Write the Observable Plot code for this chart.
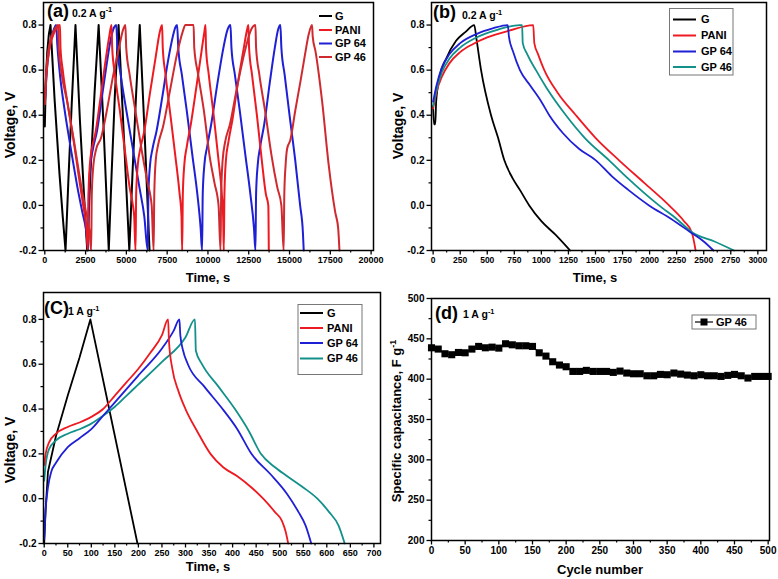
<!DOCTYPE html>
<html><head><meta charset="utf-8">
<script src="https://cdn.jsdelivr.net/npm/d3@7"></script>
<script src="https://cdn.jsdelivr.net/npm/@observablehq/plot@0.6"></script>
<style>
html,body{margin:0;padding:0;background:#fff;}
#fig{position:relative;width:778px;height:579px;overflow:hidden;background:#fff;}
#fig svg{position:absolute;overflow:visible;}
</style></head><body><div id="fig"></div>
<script>
// ---------- DATA ----------
const seriesNames = ["G", "PANI", "GP 64", "GP 46"];
// (a) 0.2 A/g, repeated cycles  [time s, voltage V]
const aG = [[0,0.35],[60,0.55],[150,0.68],[250,0.76],[350,0.8],[600,0.47],[900,0.14],[1100,-0.05],[1270,-0.2],[1450,0.12],[1650,0.45],[1880,0.8],[2150,0.38],[2400,0.05],[2600,-0.2],[2800,0.15],[3050,0.5],[3300,0.8],[3600,0.35],[3920,-0.2],[4100,0.15],[4300,0.5],[4520,0.8],[4850,0.3],[5180,-0.2],[5380,0.15],[5600,0.5],[5820,0.8],[6100,0.35],[6420,-0.2]];
const aGP64 = [[0,0.45],[150,0.62],[350,0.73],[550,0.78],[700,0.8],[760,0.72],[900,0.6],[1200,0.43],[1600,0.25],[2000,0.08],[2300,-0.03],[2550,-0.12],[2660,-0.2],
 [2700,0.05],[2800,0.18],[2950,0.25],[3200,0.33],[3500,0.48],[3800,0.63],[4050,0.74],[4250,0.79],[4380,0.8],
 [4450,0.7],[4650,0.58],[5000,0.42],[5400,0.25],[5800,0.08],[6100,-0.05],[6310,-0.2],
 [6350,0.05],[6450,0.18],[6600,0.25],[6850,0.33],[7200,0.48],[7550,0.64],[7850,0.75],[8000,0.79],[8110,0.8],
 [8180,0.7],[8400,0.58],[8700,0.42],[9050,0.22],[9350,0.05],[9550,-0.1],[9640,-0.2],
 [9680,0.05],[9780,0.18],[9950,0.26],[10200,0.36],[10600,0.55],[10950,0.7],[11200,0.78],[11380,0.8],
 [11440,0.7],[11650,0.58],[11950,0.42],[12300,0.22],[12600,0.05],[12820,-0.1],[12910,-0.2],
 [12950,0.05],[13050,0.18],[13200,0.26],[13450,0.36],[13800,0.55],[14100,0.7],[14300,0.78],[14440,0.8],
 [14500,0.7],[14700,0.58],[15000,0.4],[15350,0.2],[15650,0.0],[15820,-0.12],[15870,-0.2]];
const aPANI = [[0,0.45],[100,0.58],[300,0.7],[600,0.77],[930,0.8],[960,0.7],[1100,0.6],[1400,0.45],[1800,0.27],[2100,0.12],[2350,0.0],[2550,-0.1],[2640,-0.2],
 [2680,0.05],[2760,0.18],[2880,0.25],[3100,0.32],[3400,0.47],[3700,0.63],[3950,0.75],[4090,0.8],
 [4130,0.7],[4300,0.58],[4600,0.42],[4950,0.22],[5200,0.08],[5400,0.0],[5480,-0.05],[5560,-0.2],
 [5600,0.05],[5700,0.18],[5850,0.25],[6100,0.33],[6450,0.5],[6800,0.66],[7050,0.77],[7190,0.8],
 [7230,0.7],[7400,0.58],[7700,0.4],[8000,0.22],[8250,0.06],[8380,-0.05],[8420,-0.2],
 [8460,0.05],[8550,0.18],[8700,0.26],[8950,0.36],[9300,0.53],[9600,0.68],[9780,0.77],[9850,0.8],
 [9880,0.7],[10050,0.58],[10350,0.4],[10650,0.2],[10850,0.05],[10930,-0.05],[10970,-0.2],
 [11010,0.05],[11100,0.2],[11250,0.28],[11500,0.38],[11850,0.55],[12200,0.7],[12400,0.78],[12480,0.8],
 [12520,0.7],[12700,0.58],[13000,0.4],[13300,0.2],[13550,0.05],[13700,0.0],[13730,-0.2]];
const aGP46 = [[0,0.45],[100,0.6],[300,0.72],[600,0.78],[820,0.8],[850,0.7],[1000,0.6],[1400,0.45],[1800,0.28],[2200,0.1],[2500,-0.02],[2750,-0.12],[2840,-0.2],
 [2880,0.05],[2980,0.18],[3150,0.25],[3450,0.3],[3800,0.42],[4200,0.58],[4550,0.7],[4800,0.78],[4940,0.8],
 [4990,0.7],[5200,0.58],[5550,0.42],[5950,0.24],[6300,0.1],[6550,0.0],[6670,-0.2],
 [6710,0.05],[6800,0.2],[6950,0.27],[7250,0.35],[7650,0.5],[8100,0.67],[8450,0.77],[8620,0.8],[9120,0.8],
 [9160,0.7],[9400,0.58],[9750,0.42],[10100,0.22],[10400,0.1],[10650,0.0],[10770,-0.2],
 [10810,0.05],[10900,0.2],[11050,0.28],[11350,0.36],[11800,0.53],[12250,0.68],[12650,0.78],[12910,0.8],
 [12950,0.7],[13150,0.58],[13500,0.42],[13900,0.22],[14250,0.08],[14500,0.0],[14640,-0.2],
 [14680,0.05],[14760,0.18],[14850,0.25],[15050,0.29],[15350,0.42],[15670,0.55],[15950,0.67],[16180,0.76],[16380,0.8],
 [16420,0.75],[16600,0.68],[17000,0.46],[17400,0.18],[17800,-0.03],[17980,-0.1],[18060,-0.2]];
// (b) 0.2 A/g, single cycle
const bG = [[0,0.44],[8,0.36],[20,0.36],[28,0.46],[60,0.57],[120,0.65],[212,0.73],[300,0.77],[380,0.8],[400,0.74],[443,0.6],[535,0.4],[600,0.3],[658,0.2],[735,0.12],[800,0.07],[888,0.0],[1000,-0.07],[1130,-0.13],[1265,-0.2]];
const bPANI = [[0,0.43],[30,0.5],[80,0.57],[150,0.63],[250,0.68],[366,0.715],[500,0.745],[700,0.775],[925,0.8],[935,0.72],[970,0.67],[1027,0.6],[1150,0.5],[1319,0.4],[1500,0.3],[1718,0.2],[1950,0.1],[2180,0.0],[2318,-0.07],[2390,-0.12],[2410,-0.16],[2425,-0.2]];
const bGP64 = [[0,0.46],[30,0.53],[80,0.61],[150,0.67],[250,0.72],[400,0.76],[550,0.785],[690,0.8],[700,0.75],[740,0.68],[802,0.6],[900,0.53],[1000,0.46],[1073,0.4],[1200,0.32],[1350,0.25],[1503,0.2],[1650,0.13],[1800,0.07],[1995,0.0],[2200,-0.06],[2380,-0.12],[2500,-0.16],[2590,-0.2]];
const bGP46 = [[0,0.44],[30,0.51],[80,0.59],[150,0.65],[250,0.7],[400,0.745],[600,0.78],[800,0.8],[822,0.8],[828,0.72],[870,0.67],[950,0.6],[1050,0.52],[1227,0.4],[1400,0.3],[1626,0.2],[1800,0.12],[2087,0.0],[2250,-0.06],[2395,-0.12],[2600,-0.16],[2780,-0.2]];
// (c) 1 A/g
const cG = [[0,-0.2],[3,-0.05],[8,0.12],[25,0.28],[50,0.46],[75,0.63],[98,0.8],[148,0.3],[198,-0.2]];
const cPANI = [[0,0.15],[3,0.2],[10,0.25],[25,0.29],[50,0.32],[75,0.34],[100,0.365],[125,0.4],[150,0.46],[175,0.52],[200,0.58],[225,0.65],[250,0.73],[263,0.8],[265,0.7],[272,0.58],[285,0.48],[300,0.4],[325,0.3],[353,0.2],[380,0.14],[410,0.1],[440,0.05],[465,0.0],[490,-0.06],[505,-0.1],[513,-0.15],[518,-0.2]];
const cGP64 = [[0,-0.18],[3,-0.05],[8,0.05],[15,0.12],[25,0.16],[50,0.23],[75,0.27],[100,0.31],[125,0.37],[150,0.43],[200,0.55],[250,0.67],[275,0.75],[287,0.8],[289,0.73],[295,0.66],[305,0.6],[340,0.5],[375,0.41],[410,0.31],[440,0.2],[480,0.11],[516,0.02],[540,-0.06],[555,-0.12],[567,-0.2]];
const cGP46 = [[0,0.08],[3,0.15],[10,0.22],[25,0.26],[50,0.29],[75,0.31],[100,0.335],[125,0.37],[150,0.41],[175,0.46],[200,0.51],[250,0.61],[300,0.72],[320,0.8],[322,0.66],[335,0.6],[370,0.5],[405,0.4],[435,0.3],[460,0.2],[490,0.14],[516,0.1],[550,0.05],[580,0.0],[605,-0.06],[625,-0.12],[638,-0.2]];
// (d) cycling, GP 46
const dCycle = [0,10,20,30,40,50,60,70,80,90,100,110,120,130,140,150,160,170,180,190,200,210,220,230,240,250,260,270,280,290,300,310,320,330,340,350,360,370,380,390,400,410,420,430,440,450,460,470,480,490,500];
const dCap = [438.9,437.3,431.5,430.3,433.1,432.7,437.3,440.6,438.9,439.7,438.5,443.9,442.6,441.4,441.4,440.6,432.7,428.6,421.6,417.5,415.4,409.6,409.6,410.9,409.6,409.6,409.6,408.4,410.0,407.6,406.7,406.7,404.2,404.2,405.9,405.5,407.6,406.3,405.1,404.2,405.5,404.2,404.2,403.4,404.7,405.9,404.2,401.4,403.4,403.4,403.4];
// ticks
const voltTicks = [-0.2,0,0.2,0.4,0.6,0.8];
const voltMinor = [-0.1,0.1,0.3,0.5,0.7];
const aTimeTicks = [0,2500,5000,7500,10000,12500,15000,17500,20000];
const aTimeMinor = [1250,3750,6250,8750,11250,13750,16250,18750];
const bTimeTicks = [0,250,500,750,1000,1250,1500,1750,2000,2250,2500,2750,3000];
const bTimeMinor = [125,375,625,875,1125,1375,1625,1875,2125,2375,2625,2875];
const cTimeTicks = [0,50,100,150,200,250,300,350,400,450,500,550,600,650,700];
const cTimeMinor = [25,75,125,175,225,275,325,375,425,475,525,575,625,675];
const dCapTicks = [200,250,300,350,400,450,500];
const dCapMinor = [225,275,325,375,425,475];
const dCycTicks = [0,50,100,150,200,250,300,350,400,450,500];
const dCycMinor = [25,75,125,175,225,275,325,375,425,475];

// ---------- STYLE ----------
const FONT = '"Liberation Sans", Arial, Helvetica, sans-serif';
const COL = {G: "#000000", PANI: "#ee1a22", GP64: "#1f1fd6", GP46: "#12908a", GP46a: "#cf2a30"};
const fig = document.getElementById("fig");

function axes(xT, xM, yT, yM, xFmt, yFmt, xSize) {
  return [
    Plot.axisY({ticks: yT, tickSize: 4.5, tickPadding: 2.5, tickFormat: yFmt, fontSize: 10, label: null, strokeWidth: 1.3}),
    Plot.axisY({ticks: yM, tickSize: 2.5, tickFormat: () => "", label: null, strokeWidth: 1.2}),
    Plot.axisX({ticks: xT, tickSize: 4.5, tickPadding: 2, tickFormat: xFmt, fontSize: xSize, label: null, strokeWidth: 1.3}),
    Plot.axisX({ticks: xM, tickSize: 2.5, tickFormat: () => "", label: null, strokeWidth: 1.2})
  ];
}
const v1 = d => d.toFixed(1);
const iFmt = d => String(d);
const X = d => d[0], Y = d => d[1];
function ln(data, color, curve = "monotone-x", w = 2) {
  return Plot.line(data, {x: X, y: Y, stroke: color, strokeWidth: w, curve});
}
function place(svg, left, top) {
  svg.style.left = left + "px"; svg.style.top = top + "px";
  fig.appendChild(svg);
  return d3.select(svg);
}
function txt(s, x, y, size, main, sup, rotate, anchor = "start") {
  const t = s.append("text").attr("font-family", FONT).attr("font-weight", "bold")
    .attr("font-size", size).attr("fill", "#000").attr("text-anchor", rotate ? "middle" : anchor);
  if (rotate) t.attr("transform", `translate(${x},${y}) rotate(-90)`);
  else t.attr("x", x).attr("y", y);
  t.append("tspan").text(main);
  if (sup) t.append("tspan").attr("font-size", size * 0.7).attr("dy", -size * 0.42).text(sup);
  return t;
}
function legendRow(s, x0, x1, xt, y, color, name, size = 11) {
  s.append("line").attr("x1", x0).attr("x2", x1).attr("y1", y).attr("y2", y)
    .attr("stroke", color).attr("stroke-width", 2);
  txt(s, xt, y + size * 0.36, size, name);
}
const baseStyle = {fontFamily: FONT, fontWeight: "bold", fontSize: "10px", background: "transparent", color: "#000", overflow: "visible"};

// ---------- PANEL A ----------
const pa = Plot.plot({
  width: 389, height: 290, marginLeft: 43, marginRight: 16, marginTop: 2, marginBottom: 40,
  x: {domain: [-80, 20147]}, y: {domain: [-0.2, 0.9]}, style: baseStyle,
  marks: [
    ...axes(aTimeTicks, aTimeMinor, voltTicks, voltMinor, iFmt, v1, 9),
    ln(aG, COL.G, "linear"), ln(aGP64, COL.GP64), ln(aPANI, COL.PANI), ln(aGP46, COL.GP46a),
    Plot.frame({stroke: "#000", strokeWidth: 1.5})
  ]
});
const sa = place(pa, 0, 0);
txt(sa, 47, 16.5, 18, "(a)");
txt(sa, 72, 16.5, 10.5, "0.2 A g", "-1");
legendRow(sa, 319, 332, 335, 16, COL.G, seriesNames[0]);
legendRow(sa, 319, 332, 335, 30, COL.PANI, seriesNames[1]);
legendRow(sa, 319, 332, 335, 43.5, COL.GP64, seriesNames[2]);
legendRow(sa, 319, 332, 335, 57, COL.GP46a, seriesNames[3]);
txt(sa, 208, 281.5, 13, "Time, s", null, false, "middle");
txt(sa, 15, 125, 14, "Voltage, V", null, true);

// ---------- PANEL B ----------
const pb = Plot.plot({
  width: 390, height: 290, marginLeft: 43, marginRight: 12, marginTop: 2, marginBottom: 40,
  x: {domain: [-15, 3080]}, y: {domain: [-0.2, 0.9]}, style: baseStyle,
  marks: [
    ...axes(bTimeTicks, bTimeMinor, voltTicks, voltMinor, iFmt, v1, 8.5),
    ln(bG, COL.G, "monotone-x", 1.8), ln(bPANI, COL.PANI, "monotone-x", 1.8),
    ln(bGP46, COL.GP46, "monotone-x", 1.8), ln(bGP64, COL.GP64, "monotone-x", 1.8),
    Plot.frame({stroke: "#000", strokeWidth: 1.5})
  ]
});
const sb = place(pb, 388, 0);
sb.append("rect").attr("x", 281.5).attr("y", 8.5).attr("width", 63.5).attr("height", 66.5)
  .attr("fill", "#fff").attr("stroke", "#777").attr("stroke-width", 1);
legendRow(sb, 285, 308, 313, 19.5, COL.G, seriesNames[0]);
legendRow(sb, 285, 308, 313, 35.5, COL.PANI, seriesNames[1]);
legendRow(sb, 285, 308, 313, 51.5, COL.GP64, seriesNames[2]);
legendRow(sb, 285, 308, 313, 67, COL.GP46, seriesNames[3]);
txt(sb, 45, 18, 18, "(b)");
txt(sb, 74, 19, 10.5, "0.2 A g", "-1");
txt(sb, 207, 281.5, 13, "Time, s", null, false, "middle");
txt(sb, 15, 126, 14, "Voltage, V", null, true);

// ---------- PANEL C ----------
const pc = Plot.plot({
  width: 389, height: 291, marginLeft: 43, marginRight: 9, marginTop: 4, marginBottom: 36,
  x: {domain: [-1.5, 714]}, y: {domain: [-0.2, 0.92]}, style: baseStyle,
  marks: [
    ...axes(cTimeTicks, cTimeMinor, voltTicks, voltMinor, iFmt, v1, 9),
    ln(cG, COL.G, "linear", 1.8), ln(cGP46, COL.GP46, "monotone-x", 1.8),
    ln(cGP64, COL.GP64, "monotone-x", 1.8), ln(cPANI, COL.PANI, "monotone-x", 1.8),
    Plot.frame({stroke: "#000", strokeWidth: 1.5})
  ]
});
const sc = place(pc, 0, 288);
sc.append("rect").attr("x", 298).attr("y", 16.5).attr("width", 64).attr("height", 70)
  .attr("fill", "#fff").attr("stroke", "#777").attr("stroke-width", 1);
legendRow(sc, 300, 323, 327, 25, COL.G, seriesNames[0]);
legendRow(sc, 300, 323, 327, 40, COL.PANI, seriesNames[1]);
legendRow(sc, 300, 323, 327, 55, COL.GP64, seriesNames[2]);
legendRow(sc, 300, 323, 327, 70.5, COL.GP46, seriesNames[3]);
txt(sc, 44, 25.5, 18, "(C)");
txt(sc, 68, 27, 10.5, "1 A g", "-1");
txt(sc, 208, 283, 13, "Time, s", null, false, "middle");
txt(sc, 15, 162, 14, "Voltage, V", null, true);

// ---------- PANEL D ----------
const dData = dCycle.map((c, i) => ({cycle: c, cap: dCap[i]}));
const pd = Plot.plot({
  width: 390, height: 291, marginLeft: 43, marginRight: 9, marginTop: 10, marginBottom: 39,
  x: {domain: [0, 502]}, y: {domain: [200, 500]}, style: baseStyle,
  marks: [
    ...axes(dCycTicks, dCycMinor, dCapTicks, dCapMinor, iFmt, iFmt, 10),
    Plot.line(dData, {x: "cycle", y: "cap", stroke: "#000", strokeWidth: 1.2}),
    Plot.dot(dData, {x: "cycle", y: "cap", symbol: "square", fill: "#000", r: 4}),
    Plot.frame({stroke: "#000", strokeWidth: 1.5})
  ]
});
const sd = place(pd, 388, 288);
sd.append("rect").attr("x", 304).attr("y", 27).attr("width", 64).attr("height", 14)
  .attr("fill", "#fff").attr("stroke", "#777").attr("stroke-width", 1);
sd.append("line").attr("x1", 307).attr("x2", 325).attr("y1", 34).attr("y2", 34).attr("stroke", "#000").attr("stroke-width", 1.2);
sd.append("rect").attr("x", 312.5).attr("y", 30.5).attr("width", 7).attr("height", 7).attr("fill", "#000");
txt(sd, 328, 38, 11, "GP 46");
txt(sd, 47, 30.5, 18, "(d)");
txt(sd, 75, 30, 10.5, "1 A g", "-1");
txt(sd, 212, 285.5, 13, "Cycle number", null, false, "middle");
txt(sd, 13, 133, 13, "Specific capacitance, F g", "-1", true);
</script></body></html>
